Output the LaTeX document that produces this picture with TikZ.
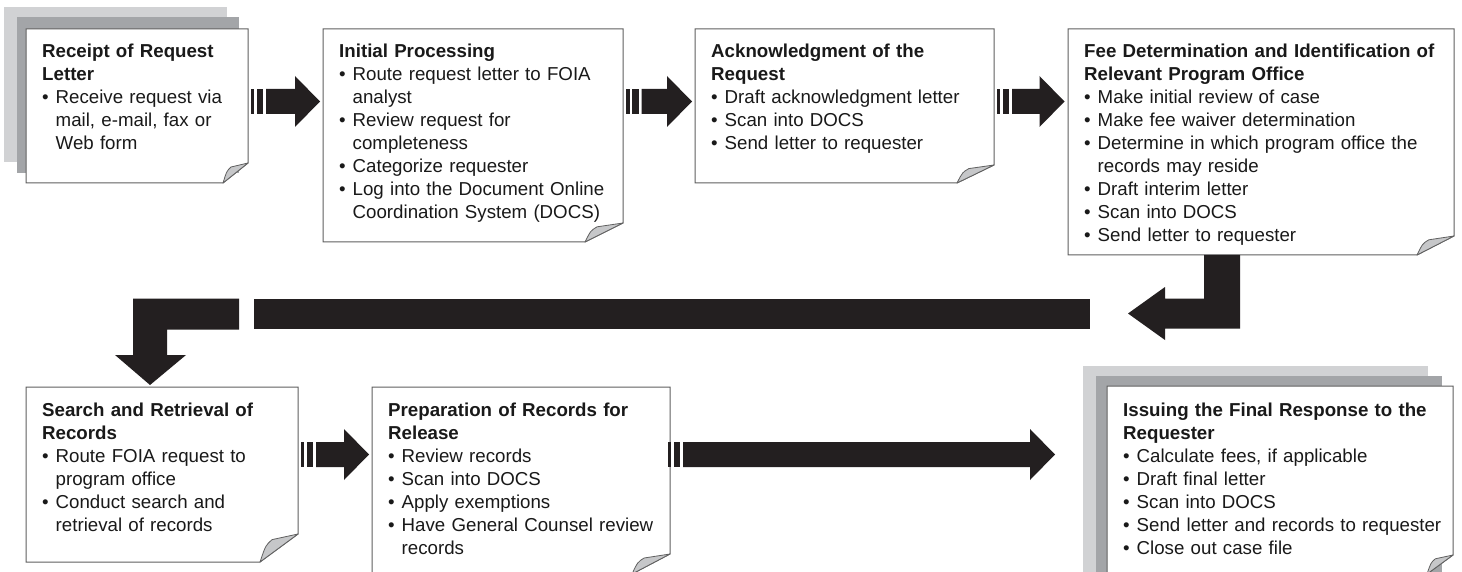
\documentclass[tikz,border=0pt]{standalone}
\usepackage{fontspec}
\setmainfont{Liberation Sans}
\definecolor{shlight}{HTML}{D1D2D4}
\definecolor{shdark}{HTML}{A3A5A8}
\definecolor{arrowblk}{HTML}{231F20}
\definecolor{boxedge}{HTML}{606060}
\definecolor{foldgray}{HTML}{C6C7C9}
\newcommand\mybul{\makebox[13.5pt][l]{•}}
\newcommand\myind{\hspace*{13.5pt}}
% name, L, T, R, B, fold width, fold height
\newcommand\docbox[7]{%
  \coordinate (#1-nw) at (#2,#3);
  \coordinate (#1-se) at (#4,#5);
  \filldraw[boxline] (#2,#3) -- (#4,#3) -- (#4,{#5-#7}) -- ({#4-#6},#5) -- (#2,#5) -- cycle;
  \filldraw[foldst] (#4,{#5-#7}) -- ({#4-0.68*#6},{#5-0.8*#7})
     .. controls ({#4-0.85*#6},{#5-0.6*#7}) .. ({#4-#6},#5) -- cycle;
}
% bars start, head start, tip, centre y
\newcommand\hblock[4]{%
  \fill[arrowblk] (#1,{#4-12.5}) rectangle ({#1+3.5},{#4+12.5});
  \fill[arrowblk] ({#1+6},{#4-12.5}) rectangle ({#1+12.5},{#4+12.5});
  \fill[arrowblk] ({#1+15.5},{#4-12.5}) -- (#2,{#4-12.5}) -- (#2,{#4-25.5}) -- (#3,#4)
     -- (#2,{#4+25.5}) -- (#2,{#4+12.5}) -- ({#1+15.5},{#4+12.5}) -- cycle;
}
\begin{document}
\begin{tikzpicture}[x=1pt,y=-1pt,
  boxline/.style={draw=boxedge,fill=white,line width=1pt,line join=miter},
  foldst/.style={draw=boxedge,fill=foldgray,line width=0.8pt,line join=round},
  txt/.style={anchor=base west,inner sep=0pt,text width=420pt,align=left,
    font=\fontsize{18.7pt}{23pt}\selectfont,text=black!90}]
\useasboundingbox (0,0) rectangle (1462,572);
\fill[white] (0,0) rectangle (1462,572);

% shadows
\fill[shlight] (4,7) rectangle (227,162);
\fill[shdark] (17,17) rectangle (239,173);
\fill[shlight] (1083,366) rectangle (1428,600);
\fill[shdark] (1096,376) rectangle (1442,600);

% boxes
\docbox{b1}{26}{29}{248}{183}{25}{20}
\docbox{b2}{323}{29}{623}{242}{38}{19}
\docbox{b3}{695}{29}{994}{183}{37}{18}
\docbox{b4}{1068}{29}{1454}{255}{37}{19}
\docbox{b5}{26}{387}{298}{562}{38}{28}
\docbox{b6}{372}{387}{670}{574}{38}{20}
\docbox{b7}{1107}{386}{1453}{574}{26}{19}

% texts
\node[txt] (t1) at (42,58) {\textbf{Receipt of Request}\\\textbf{Letter}\\
  \mybul Receive request via\\\myind mail, e-mail, fax or\\\myind Web form};
\node[txt] (t2) at (339,58) {\textbf{Initial Processing}\\
  \mybul Route request letter to FOIA\\\myind analyst\\
  \mybul Review request for\\\myind completeness\\
  \mybul Categorize requester\\
  \mybul Log into the Document Online\\\myind Coordination System (DOCS)};
\node[txt] (t3) at (711,58) {\textbf{Acknowledgment of the}\\\textbf{Request}\\
  \mybul Draft acknowledgment letter\\
  \mybul Scan into DOCS\\
  \mybul Send letter to requester};
\node[txt] (t4) at (1084,58) {\textbf{Fee Determination and Identification of}\\
  \textbf{Relevant Program Office}\\
  \mybul Make initial review of case\\
  \mybul Make fee waiver determination\\
  \mybul Determine in which program office the\\\myind records may reside\\
  \mybul Draft interim letter\\
  \mybul Scan into DOCS\\
  \mybul Send letter to requester};
\node[txt] (t5) at (42,416) {\textbf{Search and Retrieval of}\\\textbf{Records}\\
  \mybul Route FOIA request to\\\myind program office\\
  \mybul Conduct search and\\\myind retrieval of records};
\node[txt] (t6) at (388,416) {\textbf{Preparation of Records for}\\\textbf{Release}\\
  \mybul Review records\\
  \mybul Scan into DOCS\\
  \mybul Apply exemptions\\
  \mybul Have General Counsel review\\\myind records};
\node[txt] (t7) at (1123,416) {\textbf{Issuing the Final Response to the}\\\textbf{Requester}\\
  \mybul Calculate fees, if applicable\\
  \mybul Draft final letter\\
  \mybul Scan into DOCS\\
  \mybul Send letter and records to requester\\
  \mybul Close out case file};

% block arrows between boxes
\hblock{250.5}{295}{320}{101.5}
\hblock{626}{667}{692}{101.5}
\hblock{996.5}{1039.5}{1064.5}{101.5}
\hblock{300.5}{344}{369}{454.5}
\hblock{667.5}{1030}{1055}{454.5}

% return path
\fill[arrowblk] (1204,255) -- (1240,255) -- (1240,328.5) -- (1165,328.5) -- (1165,340)
  -- (1128,313.5) -- (1165,287) -- (1165,298.5) -- (1204,298.5) -- cycle;
\fill[arrowblk] (254,298.5) rectangle (1090,328.5);
\fill[arrowblk] (239,298.5) -- (239,329.5) -- (167,329.5) -- (167,355) -- (186,355)
  -- (150,385) -- (115,355) -- (133,355) -- (133,298.5) -- cycle;
\end{tikzpicture}
\end{document}
